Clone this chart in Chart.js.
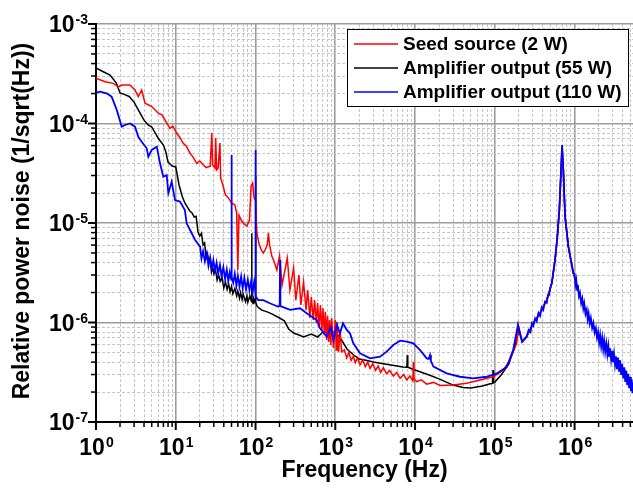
<!DOCTYPE html>
<html lang="en">
<head>
<meta charset="UTF-8">
<title>Relative power noise</title>
<script src="https://cdn.jsdelivr.net/npm/chart.js@4.4.1/dist/chart.umd.min.js"></script>
<style>
	body { margin: 0; background: #fff; }
	#noise-chart { display: block; }
</style>
</head>
<body>
<canvas id="noise-chart" width="633" height="489"></canvas>
<script>
// Спектры шума: [частота (Гц), шум (1/sqrt(Hz))]
const seedSource = [
	[1, 2.86e-4], [1.3, 2.63e-4], [1.65, 2.53e-4], [1.9, 2.34e-4], [2.12, 2.44e-4], [2.67, 2.44e-4],
	[3.08, 2.17e-4], [3.39, 1.86e-4], [3.74, 2.17e-4], [4.12, 1.6e-4], [5, 1.48e-4], [6.04, 1.27e-4],
	[6.72, 1.22e-4], [7.34, 1.08e-4], [8.46, 8.95e-5], [9.2, 9.4e-5], [10.3, 7.97e-5], [11.3, 7.2e-5],
	[12.4, 6.33e-5], [13.6, 5.9e-5], [15.1, 5.02e-5], [16.5, 4.6e-5], [18.3, 3.98e-5], [20, 4.2e-5],
	[22.2, 3.83e-5], [24, 3.6e-5], [25.6, 3.68e-5], [27, 3.71e-5], [28.3, 8.03e-5], [29, 3.83e-5],
	[31, 3.57e-5], [31.7, 7.15e-5], [32.5, 3.41e-5], [34, 3.57e-5], [35.8, 6.37e-5], [36.5, 2.83e-5],
	[38, 2.58e-5], [42, 1.91e-5], [45, 1.82e-5], [50, 1.59e-5], [55, 1.52e-5], [58, 1.26e-5],
	[60, 3.37e-6], [62, 1.2e-5], [66, 1.07e-5], [72, 9.77e-6], [78, 9.33e-6], [84, 1.07e-5],
	[88, 2.36e-5], [92, 2.52e-5], [96, 1.78e-5], [100, 1.7e-5], [104, 7.92e-6], [110, 6.29e-6],
	[118, 5.35e-6], [125, 4.99e-6], [132, 5.35e-6], [140, 6.01e-6], [145, 7.92e-6], [150, 6.01e-6],
	[160, 4.66e-6], [172, 4.06e-6], [185, 3.37e-6], [200, 4.66e-6], [215, 2.38e-6], [250, 4.45e-6],
	[270, 2.12e-6], [300, 3.53e-6], [320, 1.68e-6], [350, 3e-6], [370, 1.5e-6], [400, 2.55e-6],
	[430, 1.34e-6], [450, 2.12e-6], [480, 1.11e-6], [500, 1.8e-6], [530, 1.06e-6], [550, 1.68e-6],
	[580, 9.89e-7], [600, 1.57e-6], [630, 8.81e-7], [650, 1.5e-6], [680, 8.41e-7], [700, 1.4e-6],
	[730, 7.48e-7], [750, 1.28e-6], [780, 6.67e-7], [800, 1.16e-6], [830, 6.37e-7], [850, 1.06e-6],
	[880, 5.94e-7], [900, 1.11e-6], [950, 5.55e-7], [1000, 1.06e-6], [1030, 5.3e-7], [1050, 1.01e-6],
	[1100, 5.06e-7], [1150, 8.41e-7], [1200, 5.06e-7], [1300, 5.3e-7], [1393, 4.4e-7], [1480, 5e-7],
	[1580, 4.15e-7], [1683, 4.6e-7], [1780, 3.95e-7], [1900, 4.4e-7], [2043, 3.75e-7], [2200, 4.2e-7],
	[2380, 3.6e-7], [2550, 4e-7], [2727, 3.45e-7], [2950, 3.85e-7], [3200, 3.3e-7], [3450, 3.65e-7],
	[3700, 3.15e-7], [4000, 3.5e-7], [4400, 3.05e-7], [4800, 3.3e-7], [5343, 2.9e-7], [5900, 3.15e-7],
	[6500, 2.75e-7], [7200, 3e-7], [7870, 2.65e-7], [8600, 2.9e-7], [9400, 2.6e-7], [9526, 4.04e-7],
	[9650, 2.7e-7], [10500, 2.55e-7], [12000, 2.65e-7], [14000, 2.4e-7], [17000, 2.5e-7], [20600, 2.33e-7],
	[30200, 2.35e-7], [44400, 2.45e-7], [65300, 2.64e-7], [95900, 2.85e-7], [128000, 3.33e-7], [155000, 4.2e-7],
	[188000, 6.18e-7], [197000, 9.44e-7], [220000, 6.41e-7], [250000, 7.2e-7], [304000, 9.9e-7], [369000, 1.24e-6],
	[448000, 1.68e-6], [518000, 2.48e-6], [569000, 4.25e-6], [608000, 7.28e-6], [644000, 1.35e-5], [677000, 3.41e-5],
	[697000, 6.08e-5], [723000, 3.41e-5], [760000, 1.16e-5], [836000, 5.78e-6], [966000, 3.12e-6], [1170000, 1.82e-6],
	[1420000, 1.24e-6], [1720000, 9.08e-7], [2090000, 6.67e-7], [2790000, 4.9e-7], [3720000, 3.6e-7], [4960000, 2.45e-7],
	[5400000, 2.2e-7]
];

const amp55 = [
	[1, 3.61e-4], [1.2, 3.35e-4], [1.5, 3.07e-4], [1.8, 2.55e-4], [2, 2.03e-4], [2.3, 1.95e-4],
	[2.6, 1.87e-4], [3, 1.64e-4], [3.5, 1.31e-4], [4, 1.08e-4], [4.5, 9.66e-5], [5, 9.22e-5],
	[5.5, 8.1e-5], [6, 7.15e-5], [7, 6.08e-5], [7.5, 5.2e-5], [8, 4.1e-5], [9, 3.74e-5],
	[10, 3.66e-5], [11, 2.41e-5], [12, 1.87e-5], [13, 1.59e-5], [15, 1.32e-5], [16, 1.26e-5],
	[17, 1.15e-5], [18, 1.17e-5], [19, 8.13e-6], [20, 7.4e-6], [21, 7.9e-6], [22, 6.01e-6],
	[23, 6.3e-6], [24, 4.45e-6], [25, 4.9e-6], [26, 4.1e-6], [27, 4.4e-6], [28, 3.22e-6],
	[29, 3.6e-6], [30, 3.1e-6], [31.5, 3.4e-6], [33, 2.67e-6], [34.5, 3e-6], [36, 2.6e-6],
	[38, 2.85e-6], [40, 2.22e-6], [42, 2.55e-6], [44, 2.15e-6], [46, 2.45e-6], [48, 2.03e-6],
	[50, 2.3e-6], [52, 1.95e-6], [55, 2.2e-6], [58, 1.85e-6], [60, 2.07e-6], [63, 1.75e-6],
	[65, 2e-6], [68, 1.7e-6], [70, 1.93e-6], [75, 1.62e-6], [78, 1.85e-6], [80, 1.6e-6],
	[85, 1.85e-6], [89, 1.62e-6], [89.6, 7.9e-6], [90.2, 1.76e-6], [93, 1.55e-6], [95, 1.75e-6],
	[99.3, 1.6e-6], [100, 2.96e-5], [100.7, 1.6e-6], [104, 1.47e-6], [110, 1.4e-6], [120, 1.33e-6],
	[140, 1.28e-6], [160, 1.22e-6], [200, 1.11e-6], [230, 1.04e-6], [260, 8.61e-7], [300, 7.84e-7],
	[350, 7.48e-7], [400, 7.15e-7], [500, 7.66e-7], [600, 7.15e-7], [700, 8.03e-7], [850, 7.9e-7],
	[1000, 8.03e-7], [1200, 6.67e-7], [1400, 5.42e-7], [1700, 4.71e-7], [2000, 4.3e-7], [2500, 4.15e-7],
	[3000, 4.01e-7], [4000, 3.85e-7], [5000, 3.74e-7], [7000, 3.57e-7], [7900, 3.55e-7], [8000, 4.71e-7],
	[8100, 3.55e-7], [10000, 3.33e-7], [15000, 2.97e-7], [20000, 2.71e-7], [30000, 2.35e-7], [40000, 2.22e-7],
	[50000, 2.2e-7], [70000, 2.3e-7], [85000, 2.41e-7], [94000, 2.45e-7], [95000, 3.33e-7], [96000, 2.48e-7],
	[100000, 2.52e-7], [120000, 2.97e-7], [150000, 3.83e-7], [180000, 5.94e-7], [200000, 8.41e-7], [220000, 6.37e-7],
	[250000, 7.15e-7], [304000, 9.9e-7], [369000, 1.24e-6], [448000, 1.68e-6], [518000, 2.48e-6], [569000, 4.25e-6],
	[608000, 7.28e-6], [644000, 1.35e-5], [677000, 3.41e-5], [697000, 5.5e-5], [723000, 3.41e-5], [760000, 1.16e-5],
	[836000, 5.78e-6], [966000, 3.12e-6], [1170000, 1.82e-6], [1420000, 1.24e-6], [1720000, 9.08e-7], [2090000, 6.67e-7],
	[2790000, 4.9e-7], [3720000, 3.6e-7], [4960000, 2.45e-7], [5400000, 2.3e-7]
];

const amp110 = [
	[1, 2.04e-4], [1.12, 2.09e-4], [1.36, 2.01e-4], [1.57, 1.86e-4], [1.82, 1.37e-4], [2.1, 9.29e-5],
	[2.31, 9.66e-5], [2.67, 1e-4], [3.08, 9.29e-5], [3.39, 7.36e-5], [3.74, 6.56e-5], [4.32, 5.63e-5],
	[4.53, 4.64e-5], [5, 5.42e-5], [5.78, 5.85e-5], [6.35, 3.98e-5], [6.98, 2.92e-5], [7.7, 3.03e-5],
	[8.07, 1.99e-5], [8.89, 2.6e-5], [9.78, 1.7e-5], [11.3, 1.64e-5], [13, 1.35e-5], [13.7, 9.93e-6],
	[15.1, 8.51e-6], [17.5, 6.75e-6], [20.2, 5.78e-6], [21, 4.4e-6], [22, 5.2e-6], [23.2, 4.1e-6],
	[24.5, 4.95e-6], [25.7, 3.7e-6], [27, 4.5e-6], [28.3, 3.5e-6], [29.6, 4.25e-6], [31, 3.3e-6],
	[32.5, 4e-6], [34, 3.1e-6], [35.8, 3.8e-6], [37.5, 2.9e-6], [39.5, 3.6e-6], [41.5, 2.75e-6],
	[43.6, 3.4e-6], [45.5, 2.6e-6], [47.5, 3.2e-6], [49.6, 2.7e-6], [50, 4.82e-5], [50.4, 2.9e-6],
	[52.5, 2.5e-6], [55, 3.1e-6], [57.5, 2.35e-6], [60, 2.95e-6], [63, 2.3e-6], [66, 2.9e-6],
	[69, 2.2e-6], [72.5, 2.8e-6], [76, 2.15e-6], [80, 2.7e-6], [84, 2.1e-6], [88, 2.6e-6],
	[92, 2e-6], [96, 2.55e-6], [99.4, 2.1e-6], [100, 5.42e-5], [100.6, 1.82e-6], [108, 1.68e-6],
	[125, 1.68e-6], [151, 1.56e-6], [193, 1.44e-6], [201, 1.5e-6], [203, 4.25e-6], [205, 1.46e-6],
	[271, 1.34e-6], [361, 1.39e-6], [438, 1.24e-6], [584, 1.06e-6], [644, 8.74e-7], [782, 7.2e-7],
	[880, 9e-7], [946, 6.67e-7], [1050, 9.5e-7], [1144, 7.78e-7], [1250, 9.82e-7], [1393, 8.41e-7],
	[1529, 7.78e-7], [1683, 6.18e-7], [2043, 4.9e-7], [2727, 4.36e-7], [3640, 4.53e-7], [4402, 5.09e-7],
	[5343, 5.94e-7], [6488, 6.56e-7], [7870, 6.41e-7], [9526, 6.18e-7], [11500, 5.3e-7], [14000, 4.36e-7],
	[14800, 4.3e-7], [15400, 4.71e-7], [15800, 4.1e-7], [17000, 3.6e-7], [24900, 3.08e-7], [36500, 2.85e-7],
	[53500, 2.75e-7], [78900, 2.85e-7], [106000, 3.08e-7], [142000, 3.6e-7], [170000, 5.3e-7], [195000, 9.44e-7],
	[220000, 6.41e-7], [250000, 7.2e-7], [265000, 8.4e-7], [280000, 8e-7], [292000, 9.8e-7], [304000, 9.3e-7],
	[320000, 1.1e-6], [335000, 1.03e-6], [352000, 1.25e-6], [369000, 1.16e-6], [387000, 1.42e-6], [405000, 1.34e-6],
	[425000, 1.62e-6], [448000, 1.58e-6], [465000, 1.9e-6], [480000, 1.9e-6], [500000, 2.3e-6], [518000, 2.48e-6],
	[569000, 4.25e-6], [608000, 7.28e-6], [644000, 1.35e-5], [677000, 3.41e-5], [697000, 6.08e-5], [723000, 3.41e-5],
	[760000, 1.16e-5], [836000, 5.78e-6], [966000, 3.12e-6], [1000000, 3.07e-6], [1025000, 2.4e-6], [1050000, 2.67e-6],
	[1075000, 2.13e-6], [1100000, 2.39e-6], [1135000, 1.83e-6], [1170000, 1.98e-6], [1210000, 1.56e-6], [1250000, 1.74e-6],
	[1285000, 1.39e-6], [1320000, 1.56e-6], [1370000, 1.22e-6], [1420000, 1.35e-6], [1460000, 1.08e-6], [1500000, 1.23e-6],
	[1550000, 9.8e-7], [1600000, 1.11e-6], [1660000, 8.8e-7], [1720000, 9.9e-7], [1785000, 7.9e-7], [1850000, 8.8e-7],
	[1910000, 7.05e-7], [1970000, 8e-7], [2030000, 6.25e-7], [2090000, 7.47e-7], [2155000, 5.76e-7], [2220000, 7e-7],
	[2285000, 5.4e-7], [2350000, 6.57e-7], [2420000, 5.09e-7], [2500000, 6.17e-7], [2575000, 4.78e-7], [2650000, 5.8e-7],
	[2720000, 4.5e-7], [2790000, 5.49e-7], [2870000, 4.24e-7], [2950000, 5.15e-7], [3030000, 3.99e-7], [3120000, 4.86e-7],
	[3210000, 3.75e-7], [3300000, 4.56e-7], [3400000, 3.4e-7], [3500000, 4.45e-7], [3610000, 3.2e-7], [3720000, 4.18e-7],
	[3830000, 2.97e-7], [3950000, 3.84e-7], [4070000, 2.74e-7], [4200000, 3.54e-7], [4320000, 2.53e-7], [4450000, 3.28e-7],
	[4570000, 2.35e-7], [4700000, 3.05e-7], [4830000, 2.19e-7], [4960000, 2.84e-7], [5080000, 2.05e-7], [5200000, 2.69e-7],
	[5300000, 1.95e-7], [5400000, 2.5e-7]
];

const seriesLabels = ['Seed source (2 W)', 'Amplifier output (55 W)', 'Amplifier output (110 W)'];
const seriesColors = ['rgb(255, 0, 0)', 'rgb(0, 0, 0)', 'rgb(0, 0, 255)'];

// Декады на осях
const xDecades = [0, 1, 2, 3, 4, 5, 6];
const yDecades = [-7, -6, -5, -4, -3];
const xTitle = 'Frequency (Hz)';
const yTitle = 'Relative power noise (1/sqrt(Hz))';

const fontFamily = '"Liberation Sans", Arial, sans-serif';
const xMax = 5.4e6;

// Засечки 1..9 в каждой декаде
function decadeTicks(decades, max) {
	const ticks = [];
	decades.forEach(d => {
		for (let m = 1; m <= 9; m++) {
			const value = m * Math.pow(10, d);
			if (value <= max * 1.0001) ticks.push({ value: value, major: m === 1, exp: d });
		}
	});
	return ticks;
}

// Подпись вида 10^n
function drawPower(ctx, exp, px, py, align) {
	ctx.font = 'bold 23px ' + fontFamily;
	const wBase = ctx.measureText('10').width;
	ctx.font = 'bold 14px ' + fontFamily;
	const wExp = ctx.measureText(String(exp)).width;
	const left = align === 'center' ? px - (wBase + wExp) / 2 : px - wBase - wExp;
	ctx.textAlign = 'left';
	ctx.textBaseline = 'alphabetic';
	ctx.font = 'bold 23px ' + fontFamily;
	ctx.fillText('10', left, py);
	ctx.font = 'bold 14px ' + fontFamily;
	ctx.fillText(String(exp), left + wBase + 1, py - 8);
}

const axisDecor = {
	id: 'axisDecor',
	afterDraw(chart) {
		const ctx = chart.ctx;
		const area = chart.chartArea;
		const xs = chart.scales.x;
		const ys = chart.scales.y;
		ctx.save();
		ctx.strokeStyle = '#000';
		ctx.fillStyle = '#000';

		// Засечки наружу
		xs.ticks.forEach(t => {
			const px = xs.getPixelForValue(t.value);
			ctx.lineWidth = t.major ? 2 : 1.5;
			ctx.beginPath();
			ctx.moveTo(px, area.bottom);
			ctx.lineTo(px, area.bottom + (t.major ? 8 : 5));
			ctx.stroke();
			if (t.major) drawPower(ctx, t.exp, px, 455, 'center');
		});
		ys.ticks.forEach(t => {
			const py = ys.getPixelForValue(t.value);
			ctx.lineWidth = t.major ? 2 : 1.5;
			ctx.beginPath();
			ctx.moveTo(area.left, py);
			ctx.lineTo(area.left - (t.major ? 8 : 5), py);
			ctx.stroke();
			if (t.major) drawPower(ctx, t.exp, 87, py + 8.3, 'right');
		});

		// Названия осей
		ctx.font = 'bold 23px ' + fontFamily;
		ctx.textAlign = 'center';
		ctx.textBaseline = 'middle';
		ctx.fillText(xTitle, (area.left + area.right) / 2, 471);
		ctx.save();
		ctx.translate(23, 221);
		ctx.rotate(-Math.PI / 2);
		ctx.fillText(yTitle, 0, 0);
		ctx.restore();

		// Легенда в рамке
		const box = { x: 347.5, y: 29.5, w: 281, h: 77 };
		ctx.fillStyle = '#fff';
		ctx.fillRect(box.x, box.y, box.w, box.h);
		ctx.lineWidth = 1;
		ctx.strokeStyle = '#000';
		ctx.strokeRect(box.x, box.y, box.w, box.h);
		ctx.font = 'bold 19px ' + fontFamily;
		ctx.textAlign = 'left';
		ctx.textBaseline = 'middle';
		chart.data.datasets.forEach((ds, i) => {
			const ly = 44 + i * 24;
			ctx.strokeStyle = ds.borderColor;
			ctx.lineWidth = 1.5;
			ctx.beginPath();
			ctx.moveTo(354, ly);
			ctx.lineTo(398, ly);
			ctx.stroke();
			ctx.fillStyle = '#000';
			ctx.fillText(ds.label, 403, ly + 1);
		});
		ctx.restore();
	}
};

function toPoints(series) {
	return series.map(p => ({ x: p[0], y: p[1] }));
}

const gridStyle = {
	color: c => c.tick && c.tick.major ? '#9c9c9c' : '#c6c6c6',
	lineWidth: c => c.tick && c.tick.major ? 1.6 : 1,
	drawTicks: false
};
const borderStyle = {
	color: '#000',
	width: 2,
	dash: c => c.tick && c.tick.major ? [] : [3, 2]
};

const config = {
	type: 'scatter',
	data: {
		datasets: [seedSource, amp55, amp110].map((s, i) => ({
			label: seriesLabels[i],
			data: toPoints(s),
			showLine: true,
			borderColor: seriesColors[i],
			backgroundColor: seriesColors[i],
			borderWidth: i === 2 ? 1.8 : 1.5,
			pointRadius: 0,
			tension: 0,
			order: [1, 2, 0][i]
		}))
	},
	options: {
		responsive: false,
		animation: false,
		layout: { padding: { left: 96, right: 0, top: 24, bottom: 67 }, autoPadding: false },
		plugins: { legend: { display: false }, tooltip: { enabled: false } },
		scales: {
			x: {
				type: 'logarithmic',
				min: 1,
				max: xMax,
				grid: gridStyle,
				border: borderStyle,
				ticks: { display: false },
				afterBuildTicks: scale => { scale.ticks = decadeTicks(xDecades, xMax); }
			},
			y: {
				type: 'logarithmic',
				min: 1e-7,
				max: 1e-3,
				grid: gridStyle,
				border: borderStyle,
				ticks: { display: false },
				afterBuildTicks: scale => { scale.ticks = decadeTicks(yDecades, 1e-3); }
			}
		}
	},
	plugins: [axisDecor]
};

new Chart(document.getElementById('noise-chart'), config);
</script>
</body>
</html>
